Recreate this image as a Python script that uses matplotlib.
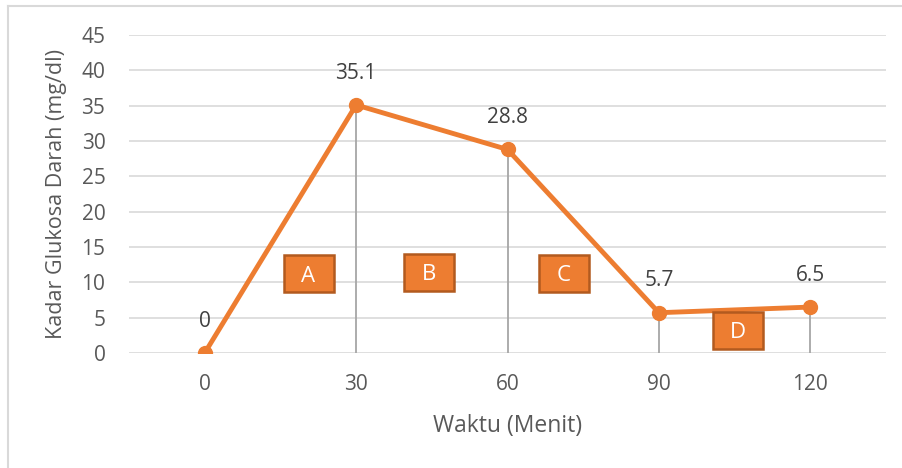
import matplotlib
matplotlib.use("Agg")
import matplotlib.pyplot as plt
from matplotlib.lines import Line2D
from matplotlib.patches import Rectangle

plt.rcParams['font.family'] = ['Open Sans', 'DejaVu Sans']

categories = ["0", "30", "60", "90", "120"]
values = [0, 35.1, 28.8, 5.7, 6.5]
value_labels = ["0", "35.1", "28.8", "5.7", "6.5"]
box_labels = ["A", "B", "C", "D"]
box_x = [0.686, 1.48, 2.37, 3.52]
box_y = [11.25, 11.4, 11.3, 3.25]

W, H = 903, 468
fig = plt.figure(figsize=(W/100, H/100), dpi=100)
ax = fig.add_axes([129/W, 1-353/H, (886-129)/W, (353-35)/H])

x = list(range(len(categories)))
orange = '#ED7D31'
txt = '#595959'

ax.set_xlim(-0.5, len(categories)-0.5)
ax.set_ylim(0, 45)
ax.set_yticks(range(0, 46, 5))
ax.set_xticks(x)
ax.set_xticklabels(categories)
ax.grid(axis='y', color='#D9D9D9', linewidth=1.2)
ax.set_axisbelow(True)
for s in ax.spines.values():
    s.set_visible(False)
ax.tick_params(length=0, labelsize=15, colors=txt)
ax.tick_params(axis='y', pad=17)
ax.tick_params(axis='x', pad=15)

# vertical drop lines
for xi, v in zip(x[1:], values[1:]):
    ax.plot([xi, xi], [0, v], color='#A6A6A6', linewidth=1.3, zorder=2)

ax.plot(x, values, color=orange, linewidth=3.5, marker='o', markersize=10, zorder=3,
        solid_capstyle='round')

for xi, v, lab in zip(x, values, value_labels):
    ax.annotate(lab, (xi, v), xytext=(0, 23), textcoords='offset points',
                ha='center', va='center', fontsize=15, color='#404040')

bw = 50 / 151.4
bh = 37 / (318 / 45)
for lab, bx, by in zip(box_labels, box_x, box_y):
    ax.add_patch(Rectangle((bx - bw/2, by - bh/2), bw, bh, facecolor=orange,
                           edgecolor='#B25A1F', linewidth=1.8, zorder=4))
    ax.text(bx, by, lab, ha='center', va='center_baseline', fontsize=16, color='white', zorder=5)

ax.set_xlabel("Waktu (Menit)", fontsize=16.5, color=txt, labelpad=14)
ax.set_ylabel("Kadar Glukosa Darah (mg/dl)", fontsize=15.5, color=txt, labelpad=10)

# figure border (top and left)
fig.add_artist(Line2D([8/W, 1], [1-6/H, 1-6/H], color='#D9D9D9', linewidth=1.5, transform=fig.transFigure))
fig.add_artist(Line2D([8/W, 8/W], [0, 1-6/H], color='#D9D9D9', linewidth=1.5, transform=fig.transFigure))

fig.savefig("out.png", dpi=100)
